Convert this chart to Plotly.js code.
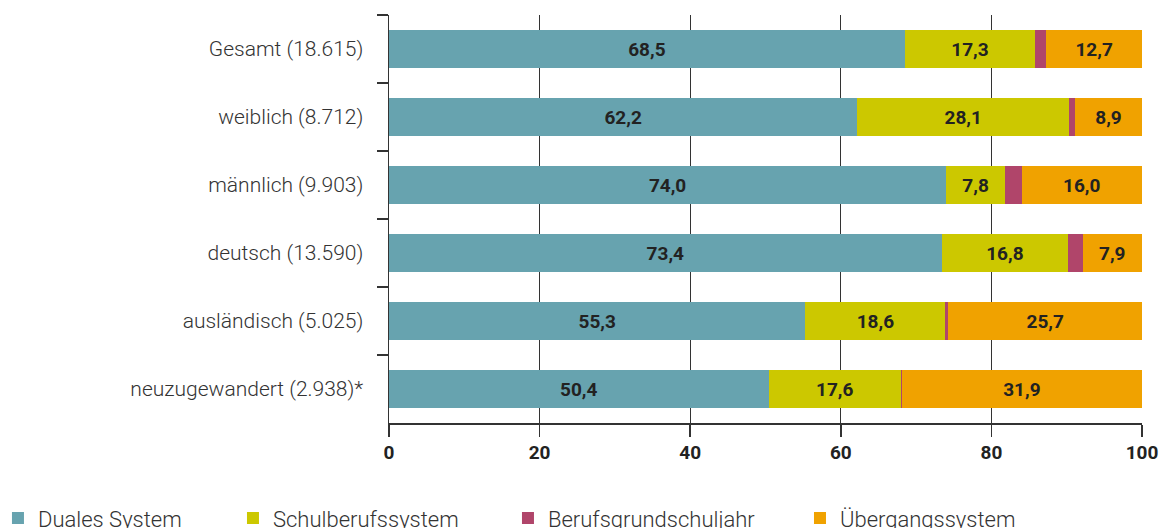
<!DOCTYPE html>
<html><head><meta charset="utf-8">
<script src="https://cdn.plot.ly/plotly-3.0.1.min.js"></script>
<style>body{margin:0;background:#fff}#chart{width:1163px;height:528px}</style>
</head><body><div id="chart"></div>
<script>
const categories = ["Gesamt (18.615)", "weiblich (8.712)", "männlich (9.903)", "deutsch (13.590)", "ausländisch (5.025)", "neuzugewandert (2.938)*"];
const dualesSystem = [68.5, 62.2, 74.0, 73.4, 55.3, 50.4];
const schulberufssystem = [17.3, 28.1, 7.8, 16.8, 18.6, 17.6];
const berufsgrundschuljahr = [1.5, 0.8, 2.2, 1.9, 0.4, 0.1];
const uebergangssystem = [12.7, 8.9, 16.0, 7.9, 25.7, 31.9];
const xTicks = [0, 20, 40, 60, 80, 100];

const FONT = "Roboto, Arial, sans-serif";
const series = [
  {name: "Duales System", x: dualesSystem, color: "#67A3AF", label: true, legend: "legend", lx: -0.5193},
  {name: "Schulberufssystem", x: schulberufssystem, color: "#CCC800", label: true, legend: "legend2", lx: -0.2072},
  {name: "Berufsgrundschuljahr", x: berufsgrundschuljahr, color: "#B0456A", label: false, legend: "legend3", lx: 0.1580},
  {name: "Übergangssystem", x: uebergangssystem, color: "#F0A200", label: true, legend: "legend4", lx: 0.5458}
];

const data = series.map(s => ({
  type: "bar", orientation: "h", name: s.name, y: categories, x: s.x,
  legend: s.legend,
  marker: {color: s.color, line: {width: 0}},
  texttemplate: s.label ? "%{x:.1f}" : "",
  textposition: s.label ? "inside" : "none",
  insidetextanchor: "middle", textangle: 0, constraintext: "none",
  textfont: {family: FONT, size: 19, weight: 700, color: "#222"},
  hoverinfo: "none"
}));

const layout = {
  width: 1163, height: 528,
  margin: {l: 389, r: 21, t: 15, b: 105, autoexpand: false},
  barmode: "stack", bargap: 0.44,
  separators: ",.",
  showlegend: true,
  paper_bgcolor: "#fff", plot_bgcolor: "#fff",
  xaxis: {
    range: [0, 100], tickvals: xTicks, ticktext: xTicks.map(String),
    showgrid: true, gridcolor: "#333", gridwidth: 1, zeroline: false,
    showline: true, linecolor: "#333", linewidth: 1.5,
    ticks: "outside", ticklen: 12, tickcolor: "#333", tickwidth: 1.5,
    tickfont: {family: FONT, size: 19, weight: 700, color: "#222"},
    automargin: false, fixedrange: true
  },
  yaxis: {
    type: "category", autorange: "reversed",
    showline: true, linecolor: "#333", linewidth: 1.5,
    ticks: "outside", tickson: "boundaries", ticklen: 11, tickcolor: "#333", tickwidth: 1.5,
    showgrid: false, zeroline: false,
    ticklabelstandoff: 20,
    tickfont: {family: FONT, size: 21, weight: 300, color: "#333"},
    automargin: false, fixedrange: true
  }
};
series.forEach(s => {
  layout[s.legend] = {
    orientation: "h", x: s.lx, xanchor: "left", y: -0.2335, yanchor: "middle",
    font: {family: FONT, size: 22, weight: 300, color: "#333"},
    itemwidth: 30, bgcolor: "rgba(0,0,0,0)"
  };
});

Plotly.newPlot("chart", data, layout, {staticPlot: true, displayModeBar: false});
</script></body></html>
